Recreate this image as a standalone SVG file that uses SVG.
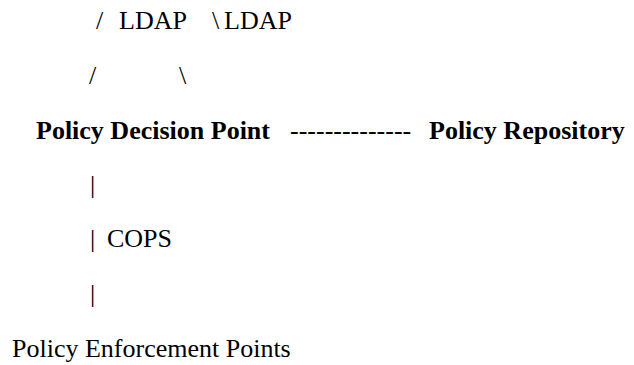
<svg xmlns="http://www.w3.org/2000/svg" width="634" height="365" viewBox="0 0 634 365">
<style>
text{font-family:"Liberation Serif","Times New Roman",serif;font-size:26px;fill:#000}
.b{font-weight:bold}
</style>
<rect width="634" height="365" fill="#fff"/>
<g id="connectors">
<text x="96" y="29">/</text>
<text x="119" y="29">LDAP</text>
<text x="212" y="29">\</text>
<text x="224" y="29">LDAP</text>
<text x="89" y="84">/</text>
<text x="179" y="84">\</text>
<text x="290" y="139">--------------</text>
<text x="90" y="193">|</text>
<text x="90" y="247">|</text>
<text x="107" y="247">COPS</text>
<text x="90" y="302">|</text>
</g>
<g id="pdp"><text class="b" x="36" y="139">Policy Decision Point</text></g>
<g id="repository"><text class="b" x="429" y="139">Policy Repository</text></g>
<g id="pep"><text x="12" y="357">Policy Enforcement Points</text></g>
</svg>
